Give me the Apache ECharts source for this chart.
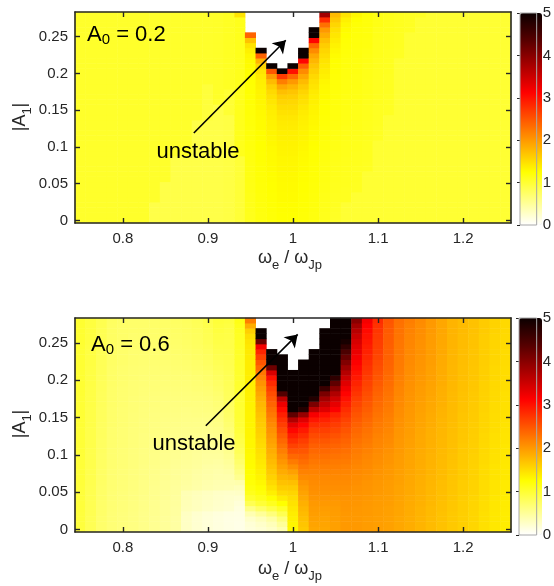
<!DOCTYPE html>
<html>
<head>
<meta charset="utf-8">
<script src="https://cdn.jsdelivr.net/npm/echarts@6.0.0/dist/echarts.min.js"></script>
<style>html,body{margin:0;padding:0;background:#fff}#chart{width:554px;height:586px}</style>
</head>
<body>
<div id="chart"></div>
<script>
// Sample grid: ω_e/ω_Jp (columns) and |A1| (rows)
const omegaRatio = [0.75,0.7625,0.775,0.7875,0.8,0.8125,0.825,0.8375,0.85,0.8625,0.875,0.8875,0.9,0.9125,0.925,0.9375,0.95,0.9625,0.975,0.9875,1,1.0125,1.025,1.0375,1.05,1.0625,1.075,1.0875,1.1,1.1125,1.125,1.1375,1.15,1.1625,1.175,1.1875,1.2,1.2125,1.225,1.2375,1.25];
const ampA1 = [0,0.007,0.014,0.021,0.028,0.035,0.042,0.049,0.056,0.063,0.07,0.077,0.084,0.091,0.098,0.105,0.112,0.119,0.126,0.133,0.14,0.147,0.154,0.161,0.168,0.175,0.182,0.189,0.196,0.203,0.21,0.217,0.224,0.231,0.238,0.245,0.252,0.259,0.266,0.273,0.28];
const xTickValues = [0.8, 0.9, 1, 1.1, 1.2];
const yTickValues = [0, 0.05, 0.1, 0.15, 0.2, 0.25];

// A0 = 0.2 : one array per ω_e/ω_Jp column, |A1| ascending; null = unstable
const responseA02 = [
[1.04,1.04,1.04,1.04,1.04,1.04,1.04,1.04,1.04,1.04,1.04,1.04,1.04,1.04,1.04,1.04,1.04,1.04,1.04,1.04,1.04,1.04,1.04,1.04,1.04,1.04,1.04,1.04,1.04,1.04,1.04,1.04,1.04,1.04,1.04,1.04,1.04,1.04,1.04,1.04,1.04],
[1.04,1.04,1.04,1.04,1.04,1.04,1.04,1.04,1.04,1.04,1.04,1.04,1.04,1.04,1.04,1.04,1.04,1.04,1.04,1.04,1.04,1.04,1.04,1.04,1.04,1.04,1.04,1.04,1.04,1.04,1.04,1.04,1.04,1.04,1.04,1.04,1.04,1.04,1.04,1.04,1.04],
[1.04,1.04,1.04,1.04,1.04,1.04,1.04,1.04,1.04,1.04,1.04,1.04,1.04,1.04,1.04,1.04,1.04,1.04,1.04,1.04,1.04,1.04,1.04,1.04,1.04,1.04,1.04,1.04,1.04,1.04,1.04,1.04,1.04,1.04,1.04,1.04,1.04,1.04,1.04,1.04,1.04],
[1.04,1.04,1.04,1.04,1.04,1.04,1.04,1.04,1.04,1.04,1.04,1.04,1.04,1.04,1.04,1.04,1.04,1.04,1.04,1.04,1.04,1.04,1.04,1.04,1.04,1.04,1.04,1.04,1.04,1.04,1.04,1.04,1.04,1.04,1.04,1.04,1.04,1.04,1.04,1.04,1.04],
[1.04,1.04,1.04,1.04,1.04,1.04,1.04,1.04,1.04,1.04,1.04,1.04,1.04,1.04,1.04,1.04,1.04,1.04,1.04,1.04,1.04,1.04,1.04,1.04,1.04,1.04,1.04,1.04,1.04,1.04,1.04,1.04,1.04,1.04,1.04,1.04,1.04,1.04,1.04,1.04,1.04],
[1.04,1.04,1.04,1.04,1.04,1.04,1.04,1.04,1.04,1.04,1.04,1.04,1.04,1.04,1.04,1.04,1.04,1.04,1.04,1.04,1.04,1.04,1.04,1.04,1.04,1.04,1.04,1.04,1.04,1.04,1.04,1.04,1.04,1.04,1.04,1.04,1.04,1.04,1.04,1.04,1.04],
[1.04,1.04,1.04,1.04,1.04,1.04,1.04,1.04,1.04,1.04,1.04,1.04,1.04,1.04,1.04,1.04,1.04,1.04,1.04,1.04,1.04,1.04,1.04,1.04,1.04,1.04,1.04,1.04,1.04,1.04,1.04,1.04,1.04,1.04,1.04,1.04,1.04,1.04,1.04,1.04,1.04],
[0.9,0.9,0.9,0.9,1.04,1.04,1.04,1.04,1.04,1.04,1.04,1.04,1.04,1.04,1.04,1.04,1.04,1.04,1.04,1.04,1.04,1.04,1.04,1.04,1.04,1.04,1.04,1.04,1.04,1.04,1.04,1.04,1.04,1.04,1.04,1.04,1.04,1.04,1.04,1.04,1.04],
[0.9,0.9,0.9,0.9,0.9,0.9,0.9,0.9,1.04,1.04,1.04,1.04,1.04,1.04,1.04,1.04,1.04,1.04,1.04,1.04,1.04,1.04,1.04,1.04,1.04,1.04,1.04,1.04,1.04,1.04,1.04,1.04,1.04,1.04,1.04,1.04,1.04,1.04,1.04,1.04,1.04],
[0.9,0.9,0.9,0.9,0.9,0.9,0.9,0.9,0.9,0.9,0.9,0.9,0.9,1.04,1.04,1.04,1.04,1.04,1.04,1.04,1.04,1.04,1.04,1.04,1.04,1.04,1.04,1.04,1.04,1.04,1.04,1.04,1.04,1.04,1.04,1.04,1.04,1.04,1.04,1.04,1.04],
[0.9,0.9,0.9,0.9,0.9,0.9,0.9,0.9,0.9,0.9,0.9,0.9,0.9,1.04,1.04,1.04,1.04,1.04,1.04,1.04,1.04,1.04,1.04,1.04,1.04,1.04,1.04,1.04,1.04,1.04,1.04,1.04,1.04,1.04,1.04,1.04,1.04,1.04,1.04,1.04,1.04],
[0.9,0.9,0.9,0.9,0.9,0.9,0.9,0.9,0.9,0.9,0.9,0.9,0.9,0.9,0.9,0.9,0.9,0.9,0.9,0.9,1.04,1.04,1.04,1.04,1.04,1.04,1.04,1.04,1.04,1.04,1.04,1.04,1.04,1.04,1.04,1.04,1.04,1.04,1.04,1.04,1.04],
[0.9,0.9,0.9,0.9,0.9,0.9,0.9,0.9,0.9,0.9,0.9,0.9,0.9,0.9,0.9,0.9,0.9,0.9,0.9,0.9,0.96,0.96,0.96,0.96,0.96,0.96,0.96,1.04,1.04,1.04,1.04,1.04,1.04,1.04,1.04,1.04,1.04,1.04,1.04,1.04,1.04],
[0.9,0.9,0.9,0.9,0.9,0.9,0.9,0.9,0.9,0.9,0.9,0.9,0.9,0.9,0.9,0.9,0.9,0.9,0.9,0.9,0.9,0.9,0.9,1.05,1.05,1.05,1.05,1.05,1.05,1.05,1.05,1.05,1.05,1.05,1.05,1.05,1.05,1.05,1.05,1.05,1.05],
[0.92,0.92,0.92,0.92,0.92,0.92,0.92,0.92,0.92,0.92,0.92,0.92,0.92,0.92,0.92,0.92,0.92,0.92,0.92,0.92,0.92,1.0,1.0,1.0,1.0,1.0,1.08,1.08,1.08,1.08,1.08,1.08,1.08,1.08,1.08,1.08,1.08,1.08,1.08,1.08,1.08],
[0.98,0.98,0.98,0.98,0.98,0.98,0.98,0.98,0.98,0.98,0.98,0.98,0.98,1.12,1.12,1.12,1.12,1.12,1.12,1.12,1.12,1.12,1.12,1.12,1.12,1.12,1.12,1.12,1.12,1.12,1.12,1.12,1.12,1.12,1.12,1.12,1.12,1.12,1.12,1.12,1.45],
[1.12,1.12,1.13,1.13,1.14,1.14,1.15,1.15,1.16,1.16,1.17,1.17,1.18,1.18,1.19,1.19,1.2,1.2,1.2,1.21,1.21,1.22,1.22,1.23,1.23,1.24,1.24,1.25,1.25,1.26,1.27,1.28,1.3,1.35,1.45,1.7,2.4,null,null,null,null],
[1.18,1.18,1.19,1.19,1.2,1.2,1.21,1.21,1.22,1.22,1.23,1.23,1.24,1.24,1.25,1.25,1.26,1.26,1.27,1.27,1.28,1.29,1.3,1.31,1.32,1.33,1.35,1.37,1.4,1.45,1.55,1.8,2.4,5,null,null,null,null,null,null,null],
[1.22,1.22,1.23,1.23,1.24,1.24,1.25,1.25,1.26,1.26,1.27,1.27,1.28,1.28,1.29,1.3,1.31,1.32,1.33,1.34,1.35,1.37,1.39,1.43,1.47,1.52,1.6,1.75,2.0,2.5,5,null,null,null,null,null,null,null,null,null,null],
[1.25,1.25,1.26,1.26,1.27,1.27,1.28,1.28,1.29,1.29,1.3,1.3,1.31,1.32,1.33,1.34,1.35,1.36,1.38,1.4,1.43,1.46,1.5,1.55,1.62,1.72,1.9,2.2,2.7,5,null,null,null,null,null,null,null,null,null,null,null],
[1.25,1.25,1.26,1.26,1.27,1.27,1.28,1.28,1.29,1.29,1.3,1.3,1.31,1.32,1.33,1.34,1.35,1.36,1.38,1.4,1.43,1.46,1.5,1.54,1.6,1.68,1.8,2.0,2.35,3.0,5,null,null,null,null,null,null,null,null,null,null],
[1.22,1.22,1.23,1.23,1.24,1.24,1.25,1.25,1.26,1.26,1.27,1.27,1.28,1.29,1.3,1.31,1.32,1.33,1.34,1.35,1.37,1.39,1.42,1.46,1.5,1.56,1.64,1.75,1.9,2.1,2.45,3.1,5,5,null,null,null,null,null,null,null],
[1.18,1.18,1.19,1.19,1.2,1.2,1.21,1.21,1.22,1.22,1.23,1.23,1.24,1.24,1.25,1.26,1.27,1.28,1.29,1.3,1.31,1.32,1.33,1.35,1.37,1.4,1.44,1.48,1.53,1.6,1.68,1.78,1.9,2.1,2.4,3.1,5,5,null,null,null],
[1.12,1.12,1.13,1.13,1.14,1.14,1.15,1.15,1.16,1.16,1.17,1.17,1.18,1.18,1.19,1.19,1.2,1.2,1.21,1.22,1.23,1.24,1.25,1.26,1.27,1.28,1.29,1.31,1.35,1.38,1.41,1.45,1.5,1.55,1.62,1.72,1.85,2.0,2.3,2.8,3.8],
[1.06,1.07,1.08,1.09,1.1,1.1,1.11,1.11,1.12,1.12,1.13,1.13,1.14,1.14,1.15,1.15,1.16,1.16,1.17,1.17,1.18,1.18,1.19,1.19,1.2,1.2,1.21,1.21,1.22,1.23,1.24,1.25,1.27,1.3,1.34,1.38,1.43,1.48,1.55,1.65,1.75],
[1.0,1.0,1.0,1.0,1.1,1.1,1.1,1.11,1.11,1.11,1.12,1.12,1.12,1.13,1.13,1.13,1.14,1.14,1.14,1.15,1.15,1.15,1.16,1.16,1.16,1.17,1.17,1.17,1.18,1.18,1.19,1.19,1.2,1.21,1.22,1.23,1.25,1.27,1.3,1.35,1.45],
[1.0,1.0,1.0,1.0,1.0,1.0,1.09,1.09,1.1,1.1,1.1,1.11,1.11,1.11,1.12,1.12,1.12,1.13,1.13,1.13,1.14,1.14,1.14,1.15,1.15,1.15,1.16,1.16,1.16,1.17,1.17,1.17,1.18,1.18,1.19,1.19,1.2,1.21,1.22,1.25,1.3],
[1.0,1.0,1.0,1.0,1.0,1.0,1.0,1.0,1.0,1.0,1.09,1.09,1.1,1.1,1.1,1.1,1.11,1.11,1.11,1.11,1.12,1.12,1.12,1.12,1.13,1.13,1.13,1.13,1.14,1.14,1.14,1.15,1.15,1.16,1.18,1.18,1.19,1.19,1.2,1.2,1.22],
[1.0,1.0,1.0,1.0,1.0,1.0,1.0,1.0,1.0,1.0,1.0,1.0,1.0,1.0,1.0,1.0,1.08,1.08,1.08,1.09,1.09,1.09,1.09,1.1,1.1,1.1,1.1,1.1,1.11,1.11,1.11,1.11,1.12,1.12,1.12,1.12,1.13,1.13,1.15,1.15,1.15],
[1.0,1.0,1.0,1.0,1.0,1.0,1.0,1.0,1.0,1.0,1.0,1.0,1.0,1.0,1.0,1.0,1.0,1.0,1.0,1.0,1.0,1.08,1.08,1.08,1.08,1.09,1.09,1.09,1.09,1.1,1.1,1.1,1.1,1.1,1.11,1.11,1.11,1.12,1.12,1.12,1.13],
[1.0,1.0,1.0,1.0,1.0,1.0,1.0,1.0,1.0,1.0,1.0,1.0,1.0,1.0,1.0,1.0,1.0,1.0,1.0,1.0,1.0,1.0,1.0,1.0,1.0,1.0,1.0,1.0,1.0,1.0,1.0,1.0,1.08,1.08,1.09,1.09,1.09,1.1,1.1,1.1,1.1],
[1.0,1.0,1.0,1.0,1.0,1.0,1.0,1.0,1.0,1.0,1.0,1.0,1.0,1.0,1.0,1.0,1.0,1.0,1.0,1.0,1.0,1.0,1.0,1.0,1.0,1.0,1.0,1.0,1.0,1.0,1.0,1.0,1.0,1.0,1.0,1.0,1.0,1.08,1.08,1.08,1.08],
[1.0,1.0,1.0,1.0,1.0,1.0,1.0,1.0,1.0,1.0,1.0,1.0,1.0,1.0,1.0,1.0,1.0,1.0,1.0,1.0,1.0,1.0,1.0,1.0,1.0,1.0,1.0,1.0,1.0,1.0,1.0,1.0,1.0,1.0,1.0,1.0,1.0,1.0,1.0,1.0,1.07],
[1.0,1.0,1.0,1.0,1.0,1.0,1.0,1.0,1.0,1.0,1.0,1.0,1.0,1.0,1.0,1.0,1.0,1.0,1.0,1.0,1.0,1.0,1.0,1.0,1.0,1.0,1.0,1.0,1.0,1.0,1.0,1.0,1.0,1.0,1.0,1.0,1.0,1.0,1.0,1.0,1.0],
[1.0,1.0,1.0,1.0,1.0,1.0,1.0,1.0,1.0,1.0,1.0,1.0,1.0,1.0,1.0,1.0,1.0,1.0,1.0,1.0,1.0,1.0,1.0,1.0,1.0,1.0,1.0,1.0,1.0,1.0,1.0,1.0,1.0,1.0,1.0,1.0,1.0,1.0,1.0,1.0,1.0],
[1.0,1.0,1.0,1.0,1.0,1.0,1.0,1.0,1.0,1.0,1.0,1.0,1.0,1.0,1.0,1.0,1.0,1.0,1.0,1.0,1.0,1.0,1.0,1.0,1.0,1.0,1.0,1.0,1.0,1.0,1.0,1.0,1.0,1.0,1.0,1.0,1.0,1.0,1.0,1.0,1.0],
[1.0,1.0,1.0,1.0,1.0,1.0,1.0,1.0,1.0,1.0,1.0,1.0,1.0,1.0,1.0,1.0,1.0,1.0,1.0,1.0,1.0,1.0,1.0,1.0,1.0,1.0,1.0,1.0,1.0,1.0,1.0,1.0,1.0,1.0,1.0,1.0,1.0,1.0,1.0,1.0,1.0],
[1.0,1.0,1.0,1.0,1.0,1.0,1.0,1.0,1.0,1.0,1.0,1.0,1.0,1.0,1.0,1.0,1.0,1.0,1.0,1.0,1.0,1.0,1.0,1.0,1.0,1.0,1.0,1.0,1.0,1.0,1.0,1.0,1.0,1.0,1.0,1.0,1.0,1.0,1.0,1.0,1.0],
[1.0,1.0,1.0,1.0,1.0,1.0,1.0,1.0,1.0,1.0,1.0,1.0,1.0,1.0,1.0,1.0,1.0,1.0,1.0,1.0,1.0,1.0,1.0,1.0,1.0,1.0,1.0,1.0,1.0,1.0,1.0,1.0,1.0,1.0,1.0,1.0,1.0,1.0,1.0,1.0,1.0],
[1.0,1.0,1.0,1.0,1.0,1.0,1.0,1.0,1.0,1.0,1.0,1.0,1.0,1.0,1.0,1.0,1.0,1.0,1.0,1.0,1.0,1.0,1.0,1.0,1.0,1.0,1.0,1.0,1.0,1.0,1.0,1.0,1.0,1.0,1.0,1.0,1.0,1.0,1.0,1.0,1.0],
[1.0,1.0,1.0,1.0,1.0,1.0,1.0,1.0,1.0,1.0,1.0,1.0,1.0,1.0,1.0,1.0,1.0,1.0,1.0,1.0,1.0,1.0,1.0,1.0,1.0,1.0,1.0,1.0,1.0,1.0,1.0,1.0,1.0,1.0,1.0,1.0,1.0,1.0,1.0,1.0,1.0]
];

// A0 = 0.6 : one array per ω_e/ω_Jp column, |A1| ascending; null = unstable
const responseA06 = [
[0.95,0.95,0.95,0.95,0.96,0.96,0.96,0.96,0.96,0.97,0.97,0.97,0.97,0.97,0.98,0.98,0.98,0.98,0.98,0.98,0.99,0.99,0.99,0.99,0.99,0.99,1.0,1.0,1.0,1.0,1.0,1.0,1.0,1.0,1.0,1.0,1.01,1.01,1.01,1.01,1.01],
[0.84,0.84,0.84,0.85,0.85,0.85,0.86,0.86,0.86,0.87,0.87,0.87,0.88,0.88,0.88,0.88,0.89,0.89,0.89,0.89,0.9,0.9,0.9,0.9,0.91,0.91,0.91,0.91,0.92,0.92,0.92,0.92,0.93,0.93,0.93,0.93,0.94,0.94,0.94,0.94,0.94],
[0.73,0.73,0.73,0.74,0.74,0.74,0.75,0.75,0.75,0.76,0.76,0.76,0.77,0.77,0.77,0.78,0.78,0.78,0.79,0.79,0.79,0.8,0.8,0.8,0.81,0.81,0.81,0.82,0.82,0.82,0.83,0.83,0.83,0.84,0.84,0.84,0.85,0.85,0.85,0.86,0.86],
[0.68,0.68,0.68,0.68,0.69,0.69,0.69,0.69,0.7,0.7,0.7,0.7,0.71,0.71,0.71,0.71,0.72,0.72,0.72,0.72,0.73,0.73,0.73,0.73,0.74,0.74,0.74,0.74,0.75,0.75,0.75,0.75,0.76,0.76,0.76,0.76,0.77,0.77,0.77,0.77,0.78],
[0.65,0.65,0.65,0.65,0.66,0.66,0.66,0.66,0.67,0.67,0.67,0.67,0.68,0.68,0.68,0.68,0.69,0.69,0.69,0.69,0.7,0.7,0.7,0.7,0.71,0.71,0.71,0.71,0.72,0.72,0.72,0.72,0.73,0.73,0.73,0.73,0.74,0.74,0.74,0.74,0.75],
[0.62,0.62,0.62,0.62,0.63,0.63,0.63,0.63,0.64,0.64,0.64,0.64,0.65,0.65,0.65,0.65,0.66,0.66,0.66,0.66,0.67,0.67,0.67,0.68,0.68,0.68,0.69,0.69,0.69,0.7,0.7,0.7,0.71,0.71,0.71,0.72,0.72,0.72,0.73,0.73,0.73],
[0.58,0.58,0.58,0.58,0.59,0.59,0.59,0.6,0.6,0.6,0.61,0.61,0.61,0.62,0.62,0.62,0.63,0.63,0.63,0.64,0.64,0.64,0.65,0.65,0.66,0.66,0.67,0.67,0.68,0.68,0.69,0.69,0.7,0.7,0.71,0.71,0.72,0.72,0.73,0.73,0.73],
[0.54,0.54,0.54,0.55,0.55,0.55,0.56,0.56,0.56,0.57,0.57,0.58,0.58,0.59,0.59,0.6,0.6,0.61,0.61,0.62,0.62,0.63,0.63,0.64,0.65,0.65,0.66,0.67,0.67,0.68,0.69,0.69,0.7,0.71,0.71,0.72,0.72,0.73,0.73,0.74,0.74],
[0.5,0.5,0.5,0.51,0.51,0.51,0.52,0.52,0.53,0.53,0.54,0.54,0.55,0.56,0.56,0.57,0.58,0.58,0.59,0.6,0.6,0.61,0.62,0.63,0.63,0.64,0.65,0.66,0.67,0.67,0.68,0.69,0.7,0.71,0.71,0.72,0.73,0.73,0.74,0.75,0.75],
[0.46,0.46,0.46,0.47,0.47,0.48,0.48,0.49,0.49,0.5,0.51,0.51,0.52,0.53,0.54,0.55,0.55,0.56,0.57,0.58,0.59,0.6,0.61,0.62,0.63,0.64,0.65,0.66,0.67,0.68,0.69,0.7,0.71,0.72,0.73,0.73,0.74,0.75,0.76,0.76,0.77],
[0.29,0.29,0.29,0.3,0.35,0.36,0.37,0.37,0.46,0.47,0.48,0.49,0.5,0.51,0.52,0.53,0.54,0.55,0.56,0.57,0.58,0.59,0.6,0.61,0.63,0.64,0.65,0.66,0.67,0.68,0.69,0.71,0.72,0.73,0.74,0.75,0.76,0.77,0.78,0.78,0.79],
[0.23,0.23,0.23,0.24,0.32,0.32,0.33,0.34,0.43,0.44,0.45,0.46,0.48,0.49,0.5,0.51,0.53,0.54,0.55,0.57,0.58,0.59,0.61,0.62,0.63,0.65,0.66,0.68,0.69,0.7,0.72,0.73,0.74,0.76,0.77,0.78,0.79,0.8,0.81,0.82,0.83],
[0.19,0.19,0.19,0.2,0.28,0.29,0.3,0.31,0.4,0.41,0.43,0.44,0.45,0.47,0.48,0.5,0.51,0.53,0.54,0.56,0.58,0.59,0.61,0.63,0.64,0.66,0.68,0.69,0.71,0.73,0.74,0.76,0.78,0.79,0.81,0.82,0.84,0.85,0.86,0.88,0.89],
[0.16,0.16,0.16,0.17,0.25,0.26,0.27,0.28,0.38,0.39,0.41,0.42,0.44,0.46,0.48,0.5,0.52,0.54,0.56,0.58,0.6,0.62,0.64,0.66,0.68,0.7,0.72,0.74,0.76,0.78,0.8,0.82,0.84,0.86,0.88,0.89,0.91,0.92,0.94,0.95,0.97],
[0.14,0.14,0.14,0.15,0.23,0.24,0.25,0.27,0.37,0.39,0.41,0.44,0.47,0.5,0.53,0.56,0.59,0.62,0.65,0.68,0.71,0.73,0.75,0.77,0.79,0.8,0.81,0.82,0.83,0.84,0.85,0.86,0.87,0.88,0.89,0.9,0.9,0.91,0.92,0.93,0.95],
[0.12,0.12,0.13,0.14,0.16,0.19,0.23,0.28,0.34,0.41,0.55,0.62,0.68,0.73,0.78,0.83,0.87,0.9,0.93,0.96,0.98,0.99,1.0,1.0,1.01,1.01,1.02,1.02,1.03,1.03,1.04,1.04,1.05,1.05,1.06,1.06,1.07,1.08,1.1,1.12,1.15],
[0.18,0.2,0.26,0.38,0.6,0.85,1.02,1.12,1.18,1.22,1.24,1.26,1.27,1.28,1.29,1.3,1.31,1.31,1.32,1.32,1.32,1.33,1.33,1.34,1.34,1.35,1.35,1.36,1.36,1.37,1.37,1.38,1.38,1.39,1.4,1.42,1.45,1.5,1.6,1.85,2.2],
[0.22,0.26,0.34,0.5,0.75,0.98,1.12,1.2,1.26,1.3,1.33,1.36,1.39,1.42,1.45,1.48,1.51,1.54,1.57,1.6,1.63,1.66,1.7,1.74,1.78,1.84,1.9,1.97,2.05,2.15,2.25,2.37,2.5,2.65,2.85,3.2,4.2,5,5,null,null],
[0.28,0.34,0.45,0.65,0.9,1.1,1.25,1.36,1.45,1.52,1.58,1.64,1.7,1.75,1.8,1.85,1.9,1.95,2.0,2.05,2.1,2.17,2.24,2.31,2.39,2.47,2.56,2.66,2.8,3.0,3.4,4.2,5,5,5,null,null,null,null,null,null],
[0.4,0.5,0.65,0.85,1.05,1.25,1.4,1.52,1.62,1.7,1.78,1.86,1.94,2.02,2.1,2.19,2.28,2.37,2.46,2.56,2.66,2.77,2.9,3.05,3.25,3.6,4.4,5,5,5,5,5,5,5,null,null,null,null,null,null,null],
[1.3,1.32,1.35,1.38,1.42,1.46,1.5,1.56,1.63,1.72,1.82,1.94,2.08,2.22,2.36,2.5,2.64,2.78,2.92,3.08,3.3,3.7,4.3,5,5,5,5,5,5,5,5,null,null,null,null,null,null,null,null,null,null],
[1.65,1.68,1.71,1.75,1.79,1.83,1.88,1.93,1.98,2.04,2.1,2.17,2.24,2.32,2.4,2.49,2.58,2.68,2.8,2.94,3.1,3.35,3.9,4.8,5,5,5,5,5,5,5,5,5,null,null,null,null,null,null,null,null],
[1.9,1.92,1.94,1.96,1.98,2.0,2.03,2.06,2.08,2.1,2.12,2.16,2.2,2.25,2.3,2.36,2.43,2.5,2.58,2.68,2.8,2.96,3.18,3.65,4.1,4.8,5,5,5,5,5,5,5,5,5,null,null,null,null,null,null],
[1.9,1.91,1.93,1.95,1.97,2.0,2.03,2.06,2.08,2.1,2.12,2.16,2.2,2.25,2.3,2.36,2.42,2.49,2.57,2.66,2.76,2.88,3.02,3.37,3.57,3.8,4.1,4.6,5,5,5,5,5,5,5,5,5,5,5,null,null],
[1.95,1.95,1.96,1.97,1.98,2.0,2.02,2.05,2.08,2.1,2.12,2.15,2.19,2.23,2.28,2.33,2.39,2.45,2.52,2.6,2.68,2.77,2.88,3.15,3.3,3.48,3.7,3.98,4.3,4.7,5,5,5,5,5,5,5,5,5,5,5],
[2.0,2.0,2.0,2.01,2.02,2.03,2.04,2.06,2.08,2.1,2.12,2.15,2.18,2.22,2.26,2.3,2.35,2.4,2.45,2.51,2.57,2.64,2.72,2.8,2.9,3.0,3.1,3.22,3.35,3.5,3.67,3.85,4.05,4.25,4.45,4.7,4.9,5,5,5,5],
[2.0,2.0,2.0,2.0,2.01,2.02,2.03,2.04,2.05,2.07,2.09,2.11,2.13,2.16,2.19,2.22,2.25,2.29,2.33,2.37,2.41,2.46,2.51,2.56,2.62,2.68,2.74,2.8,2.87,2.94,3.0,3.07,3.14,3.2,3.27,3.34,3.42,3.52,3.65,3.8,4.0],
[1.98,1.98,1.98,1.99,1.99,2.0,2.01,2.02,2.03,2.04,2.06,2.08,2.1,2.12,2.14,2.17,2.2,2.23,2.26,2.29,2.32,2.36,2.4,2.44,2.48,2.52,2.56,2.6,2.64,2.68,2.72,2.76,2.8,2.84,2.88,2.92,2.96,3.0,3.05,3.12,3.2],
[1.96,1.96,1.96,1.97,1.97,1.98,1.98,1.99,2.0,2.01,2.02,2.04,2.05,2.07,2.09,2.11,2.13,2.15,2.17,2.2,2.22,2.25,2.28,2.31,2.34,2.37,2.4,2.43,2.46,2.49,2.52,2.55,2.58,2.61,2.64,2.66,2.68,2.7,2.73,2.76,2.8],
[1.94,1.94,1.94,1.95,1.95,1.96,1.96,1.97,1.97,1.98,1.99,2.0,2.01,2.03,2.04,2.06,2.08,2.1,2.12,2.14,2.16,2.18,2.2,2.22,2.24,2.26,2.28,2.3,2.32,2.34,2.36,2.38,2.4,2.41,2.42,2.43,2.44,2.45,2.46,2.48,2.5],
[1.9,1.9,1.9,1.91,1.91,1.92,1.92,1.93,1.93,1.94,1.94,1.95,1.96,1.97,1.98,1.99,2.0,2.01,2.02,2.03,2.05,2.06,2.08,2.09,2.11,2.12,2.14,2.15,2.17,2.18,2.2,2.21,2.22,2.23,2.24,2.25,2.26,2.27,2.28,2.29,2.3],
[1.85,1.85,1.85,1.86,1.86,1.87,1.87,1.88,1.88,1.89,1.89,1.9,1.91,1.91,1.92,1.93,1.94,1.95,1.96,1.97,1.98,1.99,2.0,2.01,2.02,2.03,2.04,2.05,2.06,2.07,2.08,2.09,2.1,2.11,2.12,2.13,2.14,2.15,2.16,2.18,2.2],
[1.8,1.8,1.8,1.81,1.81,1.82,1.82,1.83,1.83,1.84,1.84,1.85,1.85,1.86,1.86,1.87,1.88,1.88,1.89,1.9,1.91,1.92,1.93,1.94,1.95,1.96,1.97,1.98,1.99,2.0,2.01,2.02,2.03,2.04,2.05,2.05,2.06,2.07,2.08,2.09,2.1],
[1.75,1.75,1.75,1.76,1.76,1.77,1.77,1.78,1.78,1.79,1.79,1.8,1.8,1.81,1.81,1.82,1.82,1.83,1.83,1.84,1.85,1.86,1.87,1.88,1.89,1.9,1.91,1.92,1.93,1.94,1.94,1.95,1.96,1.96,1.97,1.97,1.98,1.98,1.99,1.99,2.0],
[1.7,1.7,1.7,1.7,1.71,1.71,1.72,1.72,1.73,1.73,1.74,1.74,1.75,1.75,1.76,1.76,1.77,1.77,1.78,1.78,1.79,1.79,1.8,1.81,1.82,1.83,1.83,1.84,1.85,1.85,1.86,1.86,1.87,1.87,1.88,1.88,1.89,1.89,1.9,1.9,1.9],
[1.65,1.65,1.65,1.65,1.66,1.66,1.67,1.67,1.68,1.68,1.68,1.69,1.69,1.7,1.7,1.71,1.71,1.72,1.72,1.73,1.73,1.74,1.74,1.75,1.75,1.76,1.76,1.77,1.77,1.78,1.78,1.78,1.79,1.79,1.79,1.8,1.8,1.8,1.8,1.8,1.8],
[1.6,1.6,1.6,1.6,1.61,1.61,1.61,1.62,1.62,1.62,1.63,1.63,1.63,1.64,1.64,1.65,1.65,1.66,1.66,1.67,1.67,1.68,1.68,1.69,1.69,1.7,1.7,1.71,1.71,1.72,1.72,1.72,1.73,1.73,1.73,1.74,1.74,1.74,1.75,1.75,1.75],
[1.55,1.55,1.55,1.55,1.56,1.56,1.56,1.57,1.57,1.57,1.58,1.58,1.58,1.59,1.59,1.6,1.6,1.61,1.61,1.62,1.62,1.63,1.63,1.64,1.64,1.65,1.65,1.66,1.66,1.67,1.67,1.67,1.68,1.68,1.68,1.69,1.69,1.69,1.7,1.7,1.7],
[1.48,1.48,1.48,1.48,1.49,1.49,1.49,1.5,1.5,1.5,1.51,1.51,1.51,1.52,1.52,1.53,1.53,1.54,1.54,1.55,1.55,1.56,1.56,1.57,1.57,1.58,1.58,1.59,1.59,1.6,1.6,1.6,1.61,1.61,1.61,1.62,1.62,1.62,1.63,1.63,1.63],
[1.42,1.42,1.42,1.42,1.43,1.43,1.43,1.44,1.44,1.44,1.45,1.45,1.45,1.46,1.46,1.47,1.47,1.48,1.48,1.49,1.49,1.5,1.5,1.51,1.51,1.52,1.52,1.53,1.53,1.54,1.54,1.54,1.55,1.55,1.55,1.56,1.56,1.56,1.57,1.57,1.57],
[1.38,1.38,1.38,1.38,1.39,1.39,1.39,1.4,1.4,1.4,1.41,1.41,1.41,1.42,1.42,1.43,1.43,1.44,1.44,1.45,1.45,1.46,1.46,1.47,1.47,1.48,1.48,1.49,1.49,1.5,1.5,1.5,1.51,1.51,1.51,1.52,1.52,1.52,1.53,1.53,1.53]
];

const ink = '#262626';
const font = '"Liberation Sans", Arial, Helvetica, sans-serif';
// reversed "hot" map, evenly spaced over 0..5
const hotReversed = ['#ffffff', '#ffff80', '#ffff00', '#ffaa00', '#ff5500', '#ff0000', '#aa0000', '#550000', '#0b0000'];

function toCells(columns) {
  const cells = [];
  columns.forEach((col, i) => col.forEach((v, j) => {
    if (v !== null) cells.push([i, j, v]);
  }));
  return cells;
}

const xRange = [0.74375, 1.25625];
const yRange = [-0.0035, 0.2835];

function frameX(grid, pos, labels) {
  return {
    type: 'value', gridIndex: grid, position: pos, min: xRange[0], max: xRange[1], z: 10,
    axisLine: { show: true, onZero: false, lineStyle: { color: ink, width: 1.6 } },
    axisTick: { show: true, inside: true, length: 5, customValues: xTickValues, lineStyle: { color: ink, width: 1.4 } },
    axisLabel: { show: labels, customValues: xTickValues, color: ink, fontSize: 15, fontFamily: font, margin: 8 },
    splitLine: { show: false }
  };
}
function frameY(grid, pos, labels) {
  return {
    type: 'value', gridIndex: grid, position: pos, min: yRange[0], max: yRange[1], z: 10,
    axisLine: { show: true, onZero: false, lineStyle: { color: ink, width: 1.6 } },
    axisTick: { show: true, inside: true, length: 5, customValues: yTickValues, lineStyle: { color: ink, width: 1.4 } },
    axisLabel: { show: labels, customValues: yTickValues, color: ink, fontSize: 15, fontFamily: font, margin: 7 },
    splitLine: { show: false }
  };
}
function barAxis(grid) {
  return {
    type: 'value', gridIndex: grid, position: 'right', min: 0, max: 5, interval: 1,
    axisLine: { show: false },
    axisTick: { show: true, inside: true, length: 3, lineStyle: { color: ink, width: 1 } },
    axisLabel: { color: ink, fontSize: 15, fontFamily: font, margin: 6 },
    splitLine: { show: false }
  };
}
function catAxis(grid, data) {
  return { type: 'category', gridIndex: grid, data: data, show: false };
}

const tagRich = {
  m: { fontSize: 22, fontFamily: font, fill: '#000', lineHeight: 24, verticalAlign: 'middle' },
  s: { fontSize: 15, fontFamily: font, fill: '#000', lineHeight: 15, verticalAlign: 'bottom' }
};
const titleRich = {
  m: { fontSize: 18, fontFamily: font, fill: ink, lineHeight: 27, verticalAlign: 'middle' },
  s: { fontSize: 13, fontFamily: font, fill: ink, lineHeight: 13, verticalAlign: 'bottom' }
};
function richText(x, y, text, rich, align, rotation) {
  return { type: 'text', x: x, y: y, rotation: rotation || 0, z: 100,
    style: { text: text, rich: rich, align: align, verticalAlign: 'middle' } };
}
function plainText(x, y, text) {
  return { type: 'text', x: x, y: y, z: 100,
    style: { text: text, fontSize: 22, fontFamily: font, fill: '#000', align: 'center', verticalAlign: 'middle' } };
}

const chart = echarts.init(document.getElementById('chart'), null, { renderer: 'canvas' });
chart.setOption({
  backgroundColor: '#fff',
  animation: false,
  grid: [
    { left: 75, top: 12, width: 436, height: 211 },
    { left: 75, top: 318, width: 436, height: 214 },
    { left: 520, top: 13, width: 22, height: 212, show: true, borderColor: '#a8a8a8', borderWidth: 1, backgroundColor: 'transparent', z: 6 },
    { left: 519, top: 318, width: 23, height: 217, show: true, borderColor: '#a8a8a8', borderWidth: 1, backgroundColor: 'transparent', z: 6 }
  ],
  xAxis: [
    catAxis(0, omegaRatio), catAxis(1, omegaRatio),
    frameX(0, 'bottom', true), frameX(0, 'top', false),
    frameX(1, 'bottom', true), frameX(1, 'top', false),
    { type: 'value', gridIndex: 2, show: false }, { type: 'value', gridIndex: 3, show: false }
  ],
  yAxis: [
    catAxis(0, ampA1), catAxis(1, ampA1),
    frameY(0, 'left', true), frameY(0, 'right', false),
    frameY(1, 'left', true), frameY(1, 'right', false),
    barAxis(2), barAxis(3)
  ],
  visualMap: [
    { type: 'continuous', seriesIndex: 0, min: 0, max: 5, calculable: false, hoverLink: false, orient: 'vertical',
      left: 520, top: 13, itemWidth: 22, itemHeight: 212, padding: 0, inRange: { color: hotReversed } },
    { type: 'continuous', seriesIndex: 1, min: 0, max: 5, calculable: false, hoverLink: false, orient: 'vertical',
      left: 519, top: 318, itemWidth: 23, itemHeight: 217, padding: 0, inRange: { color: hotReversed } }
  ],
  series: [
    { type: 'heatmap', xAxisIndex: 0, yAxisIndex: 0, data: toCells(responseA02), progressive: 0, emphasis: { disabled: true } },
    { type: 'heatmap', xAxisIndex: 1, yAxisIndex: 1, data: toCells(responseA06), progressive: 0, emphasis: { disabled: true } },
    { type: 'lines', coordinateSystem: 'cartesian2d', xAxisIndex: 2, yAxisIndex: 2, silent: true, z: 20,
      symbol: ['none', 'arrow'], symbolSize: [0, 12],
      lineStyle: { color: '#000', width: 1.6, opacity: 1, curveness: 0 },
      data: [{ coords: [[0.8834, 0.119], [0.9915, 0.245]] }] },
    { type: 'lines', coordinateSystem: 'cartesian2d', xAxisIndex: 4, yAxisIndex: 4, silent: true, z: 20,
      symbol: ['none', 'arrow'], symbolSize: [0, 12],
      lineStyle: { color: '#000', width: 1.6, opacity: 1, curveness: 0 },
      data: [{ coords: [[0.8975, 0.139], [1.0055, 0.2615]] }] }
  ],
  graphic: [
    richText(87, 35, '{m|A}{s|0}{m| = 0.2}', tagRich, 'left'),
    richText(91, 345, '{m|A}{s|0}{m| = 0.6}', tagRich, 'left'),
    plainText(198, 152, 'unstable'),
    plainText(194, 444, 'unstable'),
    richText(290, 258, '{m|ω}{s|e}{m| / ω}{s|Jp}', titleRich, 'center'),
    richText(290, 569, '{m|ω}{s|e}{m| / ω}{s|Jp}', titleRich, 'center'),
    richText(20, 117, '{m||A}{s|1}{m||}', titleRich, 'center', Math.PI / 2),
    richText(20, 424, '{m||A}{s|1}{m||}', titleRich, 'center', Math.PI / 2)
  ]
});
</script>
</body>
</html>
